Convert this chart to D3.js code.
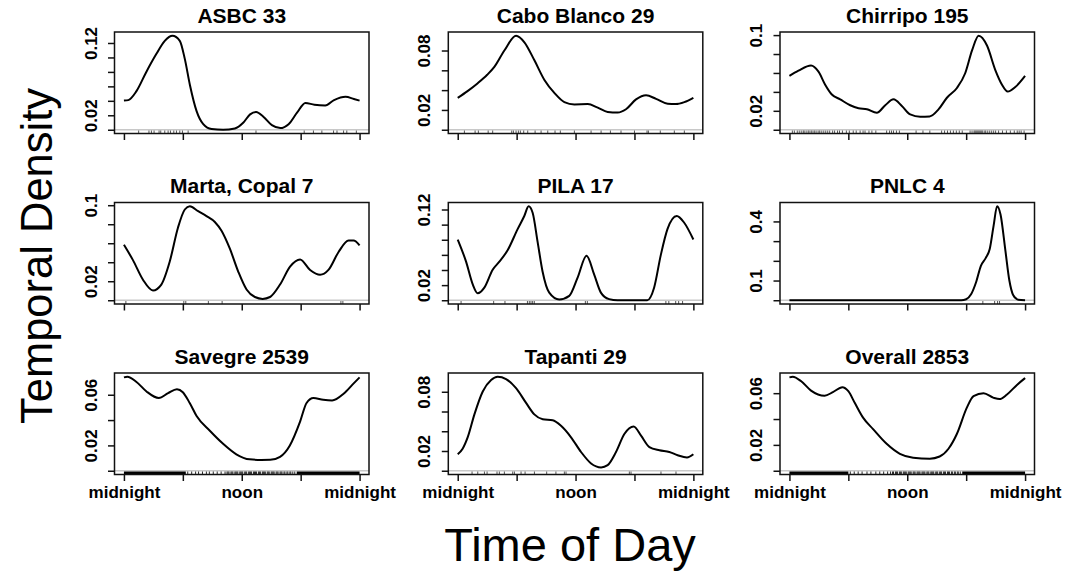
<!DOCTYPE html>
<html><head><meta charset="utf-8">
<script src="https://cdn.jsdelivr.net/npm/d3@7"></script>
<style>
body{margin:0;background:#fff}
svg{display:block}
text{font-family:"Liberation Sans",Arial,Helvetica,sans-serif}
</style>
</head><body>
<svg id="c" width="1078" height="573"></svg>
<script>
// ---- data: [hour, density] ----
const titles = ["ASBC 33","Cabo Blanco 29","Chirripo 195","Marta, Copal 7","PILA 17","PNLC 4","Savegre 2539","Tapanti 29","Overall 2853"];

const asbc = [[0,0.0403],[0.45,0.041],[1.26,0.053],[2.28,0.080],[3.31,0.105],[4.16,0.123],[4.94,0.130],[5.69,0.123],[6.2,0.098],[6.72,0.062],[7.4,0.0258],[8.08,0.0077],[8.93,0.0009],[10.1,0],[11.3,0.0018],[12.17,0.010],[12.85,0.0213],[13.47,0.0245],[14.2,0.018],[15.07,0.0063],[15.92,0.0023],[16.77,0.0077],[17.63,0.0236],[18.48,0.0371],[19.4,0.0345],[20.5,0.0335],[21.4,0.041],[22.57,0.0457],[23.42,0.0426],[24,0.0403]];
const caboBlanco = [[0,0.0322],[1.0,0.039],[2.04,0.047],[3.0,0.0555],[3.73,0.0635],[4.75,0.080],[5.94,0.0949],[6.79,0.0883],[7.81,0.0701],[8.83,0.0503],[9.84,0.0372],[10.86,0.0279],[11.88,0.0256],[13.24,0.0259],[14.26,0.0223],[15.27,0.018],[16.29,0.0174],[17.14,0.0207],[18.16,0.0306],[19.18,0.0348],[20.2,0.0312],[21.39,0.0263],[22.2,0.0259],[23.08,0.0279],[24,0.0322]];
const chirripo = [[0,0.0569],[0.92,0.0624],[2.2,0.0679],[2.96,0.0614],[3.64,0.0476],[4.32,0.0372],[5.17,0.0321],[6.19,0.0259],[7.04,0.0228],[7.89,0.0217],[8.9,0.0179],[9.76,0.0259],[10.6,0.0321],[11.45,0.0252],[12.3,0.0162],[13.32,0.0138],[14.28,0.0141],[15.2,0.0217],[16.04,0.0338],[17.06,0.0441],[17.9,0.0597],[18.6,0.0838],[19.27,0.0993],[20.12,0.089],[20.97,0.0631],[21.65,0.0476],[22.23,0.0403],[23.01,0.0452],[24,0.0569]];
const marta = [[0,0.0584],[0.92,0.0422],[1.94,0.0216],[2.96,0.0103],[3.81,0.0165],[4.66,0.0405],[5.51,0.0766],[6.2,0.0955],[6.71,0.0989],[7.56,0.0937],[8.41,0.0886],[9.26,0.0824],[9.94,0.0731],[10.79,0.0542],[11.64,0.0302],[12.49,0.0113],[13.34,0.0034],[14.13,0.0014],[14.88,0.0034],[15.9,0.0165],[16.92,0.0354],[17.94,0.0429],[18.96,0.0319],[19.98,0.0268],[20.83,0.0319],[21.86,0.0508],[22.88,0.0628],[23.39,0.0628],[24,0.0577]];
const pila = [[0,0.0803],[0.85,0.051],[1.53,0.0209],[2.03,0.0092],[2.71,0.0166],[3.56,0.0403],[4.24,0.051],[5.08,0.0661],[6.1,0.0941],[6.78,0.1114],[7.22,0.1243],[7.63,0.1157],[8.14,0.0769],[8.64,0.0381],[9.32,0.0101],[10.34,0.001],[11.36,0.0058],[12.2,0.0295],[13.12,0.0588],[13.9,0.0338],[14.58,0.0101],[15.42,0.0015],[16.27,0],[19.3,0],[20,0.0166],[20.68,0.0597],[21.36,0.0941],[22.31,0.1114],[23.05,0.1028],[24,0.0803]];
const pnlc = [[0,0],[17.5,0],[18,0.005],[18.5,0.03],[19,0.09],[19.5,0.175],[20,0.215],[20.4,0.26],[20.8,0.38],[21.15,0.477],[21.5,0.435],[22,0.25],[22.4,0.1],[22.8,0.025],[23.3,0.003],[24,0]];
const savegre = [[0,0.0737],[0.35,0.0742],[1.25,0.0703],[2.3,0.0626],[3.55,0.0574],[4.5,0.0613],[5.4,0.0644],[6,0.062],[6.7,0.0535],[7.4,0.0432],[8.75,0.0316],[10.1,0.0213],[11.45,0.013],[12.8,0.009],[14,0.0085],[14.9,0.0086],[15.9,0.011],[16.9,0.02],[17.95,0.039],[18.6,0.0535],[19.3,0.0574],[20.3,0.056],[21.2,0.0555],[22.4,0.061],[23.4,0.069],[24,0.0737]];
const tapanti = [[0,0.0167],[0.5,0.0223],[1.02,0.034],[1.7,0.0571],[2.55,0.0803],[3.4,0.0919],[4.07,0.0952],[4.92,0.0929],[5.94,0.0836],[6.96,0.0687],[7.8,0.0571],[8.66,0.0521],[9.67,0.0511],[10.52,0.0455],[11.54,0.0339],[12.56,0.019],[13.58,0.0074],[14.6,0.0034],[15.27,0.0057],[16.12,0.019],[16.97,0.0372],[17.92,0.0448],[18.67,0.0355],[19.52,0.024],[20.54,0.0207],[21.55,0.019],[22.4,0.0157],[23.35,0.0134],[24,0.0167]];
const overall = [[0,0.0722],[0.34,0.0727],[1.2,0.0692],[2.2,0.062],[3.58,0.058],[4.43,0.0608],[5.39,0.0646],[6,0.0615],[6.65,0.0526],[7.5,0.0411],[8.52,0.0322],[9.9,0.0208],[11.25,0.0131],[12.6,0.0101],[14.3,0.0093],[15.3,0.011],[16.2,0.017],[17.05,0.0284],[18.07,0.0488],[18.75,0.0577],[19.77,0.060],[20.8,0.0564],[21.4,0.0554],[22.16,0.059],[23.2,0.0666],[24,0.0717]];

// ---- y ticks and labelled ticks per panel ----
const yTicks = [
  [0,0.02,0.04,0.06,0.08,0.10,0.12],
  [0,0.02,0.04,0.06,0.08],
  [0,0.02,0.04,0.06,0.08,0.1],
  [0,0.02,0.04,0.06,0.08,0.1],
  [0,0.02,0.04,0.06,0.08,0.10,0.12],
  [0,0.1,0.2,0.3,0.4],
  [0,0.02,0.04,0.06],
  [0,0.02,0.04,0.06,0.08],
  [0,0.02,0.04,0.06]
];
const yLabels = [["0.02","0.12"],["0.02","0.08"],["0.02","0.1"],["0.02","0.1"],["0.02","0.12"],["0.1","0.4"],["0.02","0.06"],["0.02","0.08"],["0.02","0.06"]];

// ---- x ticks ----
const xTicks = [0,6,12,18,24];
const xTickLabels = ["midnight","","noon","","midnight"];

// ---- rug (observation times, hours) ----
const asbcRug = [1.5,2.55,2.8,3.07,3.58,3.75,4.16,4.5,4.74,5.08,5.35,5.69,5.96,6.54,13.45,18.36,19.3,20.16,21.35,21.7,22.37,22.7,23.67];
const caboRug = [0.68,1.77,2.1,3.1,3.56,5.5,5.67,5.94,6.18,6.38,6.72,7.13,7.88,8.49,9.17,9.91,10.45,11.88,13.58,14.6,15.55,16.63,18.0,19.28,19.42,20.63,22.06,23.08];
const chirripoRug = [0.3,0.5,0.8,1.0,1.2,1.4,1.5,1.7,1.9,2.0,2.2,2.3,2.5,2.6,2.8,3.0,3.1,3.3,3.5,3.7,3.9,4.1,4.4,4.6,4.9,5.1,5.4,5.8,6.1,6.5,6.8,7.2,7.5,7.7,8.1,8.4,8.8,9.9,10.2,10.4,10.6,10.9,11.2,12.9,13.6,14.3,15.5,15.8,16.1,16.4,16.7,17.0,17.3,17.6,18.4,18.6,18.8,18.9,19.0,19.1,19.2,19.3,19.4,19.5,19.6,19.7,19.9,20.0,20.2,20.4,20.6,20.8,21.0,21.3,21.7,22.1,22.5,22.9,23.2,23.4,23.6,23.9];
const martaRug = [0.2,6.1,6.3,8.6,10.0,22.1,22.3];
const pilaRug = [0.34,3.66,4.81,7.1,7.29,7.46,7.63,7.8,13.0,13.2,21.2,21.5,22.2,22.5,22.9];
const pnlcRug = [19.7,20.9,21.2,21.4];
const savegreRug = [6.5,6.9,7.3,7.6,8.0,8.4,8.7,9.1,9.5,9.9,10.3,10.5,10.6,10.7,10.9,11.0,11.1,11.3,11.4,11.5,11.6,11.8,11.9,12.0,12.1,12.3,12.4,12.5,12.7,12.8,12.9,13.0,13.2,13.3,13.4,13.5,13.7,13.8,13.9,14.1,14.2,14.3,14.4,14.6,14.7,14.8,15.0,15.1,15.2,15.3,15.5,15.6,15.7,15.9,16.0,16.1,16.3,16.4,16.6,16.7,16.9,17.0,17.2,17.4];
const tapantiRug = [1.46,2.04,2.72,2.99,4.0,4.24,4.75,5.6,5.77,6.45,6.86,7.81,9.06,10.0,10.86,11.03,17.48,17.65,20.7,22.23];
const overallRug = [6.2,6.6,7.0,7.4,7.9,8.3,8.8,9.2,9.6,10.0,10.3,10.5,10.6,10.8,10.9,11.0,11.2,11.3,11.4,11.6,11.7,11.8,11.9,12.1,12.2,12.3,12.4,12.6,12.7,12.8,13.0,13.1,13.2,13.3,13.5,13.6,13.7,13.8,14.0,14.1,14.2,14.4,14.5,14.6,14.7,14.9,15.0,15.1,15.3,15.4,15.5,15.7,15.8,15.9,16.1,16.2,16.3,16.5,16.6,16.8,16.9,17.1,17.2,17.4];
const savegreDense = [[0,6.3],[17.6,24]];
const overallDense = [[0,6.0],[17.6,24]];

const series = [asbc,caboBlanco,chirripo,marta,pila,pnlc,savegre,tapanti,overall];
const rugs = [asbcRug,caboRug,chirripoRug,martaRug,pilaRug,pnlcRug,savegreRug,tapantiRug,overallRug];
const denseRugs = [[],[],[],[],[],[],savegreDense,[],overallDense];

// ---- layout ----
const svg = d3.select("#c");
const colLeft = [114.5,448.3,780], W = 254.5;
const rowTop = [32,202.5,373], H = 101.5;
const font = "'Liberation Sans',Arial,Helvetica,sans-serif";

series.forEach((data,i)=>{
  const c = i%3, r = Math.floor(i/3);
  const x0 = colLeft[c], y0 = rowTop[r];
  const x = d3.scaleLinear().domain([-0.96,24.96]).range([x0,x0+W]);
  const ymax = d3.max(data,d=>d[1]);
  const y = d3.scaleLinear().domain([-0.04*ymax,1.04*ymax]).range([y0+H,y0]);
  const g = svg.append("g");

  // zero reference line
  g.append("line").attr("x1",x0).attr("x2",x0+W).attr("y1",y(0)).attr("y2",y(0))
    .attr("stroke","#c8c8c8").attr("stroke-width",1.6);

  // rug
  g.selectAll("rect.dense").data(denseRugs[i]).enter().append("rect")
    .attr("x",d=>x(d[0])).attr("width",d=>x(d[1])-x(d[0]))
    .attr("y",y0+H-3).attr("height",3).attr("fill","#000");
  g.selectAll("line.rug").data(rugs[i]).enter().append("line")
    .attr("x1",d=>x(d)).attr("x2",d=>x(d)).attr("y1",y0+H).attr("y2",y0+H-3)
    .attr("stroke", denseRugs[i].length ? "#111" : "#444").attr("stroke-width",0.9);

  // density curve
  g.append("path").datum(data)
    .attr("d",d3.line().x(d=>x(d[0])).y(d=>y(d[1])).curve(d3.curveMonotoneX))
    .attr("fill","none").attr("stroke","#000").attr("stroke-width",2).attr("stroke-linejoin","round");

  // box
  g.append("rect").attr("x",x0).attr("y",y0).attr("width",W).attr("height",H)
    .attr("fill","none").attr("stroke","#111").attr("stroke-width",1.5);

  // y axis
  const ya = g.append("g").attr("transform",`translate(${x0},0)`)
    .call(d3.axisLeft(y).tickValues(yTicks[i]).tickSize(6.5)
      .tickFormat(d=> yLabels[i].includes(String(d)) ? String(d) : ""));
  ya.select(".domain").remove();
  ya.selectAll("line").attr("stroke","#111").attr("stroke-width",1.5);
  ya.selectAll("text").attr("transform","rotate(-90)").attr("x",0).attr("y",-18).attr("dy",0)
    .attr("text-anchor","middle").style("font-family",font).style("font-size","17px")
    .style("font-weight","bold").attr("fill","#000");

  // x axis
  const xa = g.append("g").attr("transform",`translate(0,${y0+H})`)
    .call(d3.axisBottom(x).tickValues(xTicks).tickSize(6.5)
      .tickFormat((d,k)=> r===2 ? xTickLabels[k] : ""));
  xa.select(".domain").remove();
  xa.selectAll("line").attr("stroke","#111").attr("stroke-width",1.5);
  xa.selectAll("text").attr("y",23).attr("dy",0).style("font-family",font)
    .style("font-size","17px").style("font-weight","bold").attr("fill","#000");

  // title
  g.append("text").attr("x",x0+W/2).attr("y",y0-9.5).attr("text-anchor","middle")
    .style("font-family",font).style("font-size","21px").style("font-weight","bold")
    .text(titles[i]);
});

// outer axis titles
svg.append("text").attr("transform","translate(52,256) rotate(-90)").attr("text-anchor","middle")
  .style("font-family",font).style("font-size","43.5px").text("Temporal Density");
svg.append("text").attr("x",570).attr("y",561).attr("text-anchor","middle")
  .style("font-family",font).style("font-size","47px").text("Time of Day");
</script>
</body></html>
